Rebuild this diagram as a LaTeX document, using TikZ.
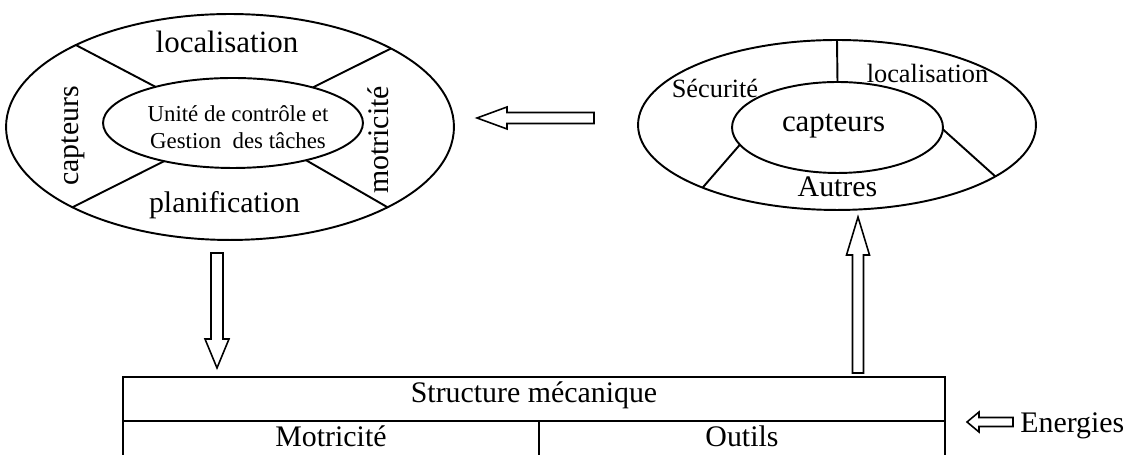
\documentclass[tikz,border=0pt]{standalone}
\usepackage{fontspec}
\setmainfont{Liberation Serif}
\usepackage{tikz}
\usetikzlibrary{shapes.geometric}
\tikzstyle{oval} = [draw, ellipse, line width=1.1pt, inner sep=0pt, outer sep=0pt]
\tikzstyle{split} = [line width=1.1pt]
\tikzstyle{lbl} = [inner sep=0pt, font=\fontsize{17}{20}\selectfont]
\tikzstyle{small} = [inner sep=0pt, font=\fontsize{15}{18}\selectfont]
\tikzstyle{cell} = [draw, line width=1.1pt, inner sep=0pt, minimum height=0.88cm, text height=0.7em, text depth=0.25em, font=\fontsize{17}{20}\selectfont]
\tikzstyle{hollow} = [draw, line width=0.9pt, line join=miter]

\begin{document}
\begin{tikzpicture}[x=0.02cm, y=0.02cm]
			\useasboundingbox (0,0) rectangle (1139,455);
			\clip (0,0) rectangle (1139,455);
			\node[oval, minimum width=8.96cm, minimum height=4.52cm] (ovalL) at (230,328) {};
			\node[oval, minimum width=5.2cm, minimum height=1.8cm] (coreL) at (233,332) {};
			\draw[split] (ovalL.152.4) -- (coreL.155.2);
			\draw[split] (ovalL.26.9) -- (coreL.24.8);
			\draw[split] (ovalL.207.9) -- (coreL.209.7);
			\draw[split] (ovalL.-27.3) -- (coreL.-27.5);
			\node[inner sep=0pt, align=center, font=\fontsize{13}{15.4}\selectfont] (task) at (238,328) {Unité de contrôle et\\Gestion~ des tâches};
			\node[lbl, anchor=base, font=\fontsize{17.6}{20}\selectfont] (locL) at (227,402) {localisation};
			\node[lbl, rotate=90] (capL) at (73,319) {capteurs};
			\node[lbl, rotate=90] (motL) at (378,315) {motricité};
			\node[lbl, anchor=base] (plan) at (224.5,242) {planification};
			\node[oval, minimum width=7.96cm, minimum height=3.4cm] (ovalR) at (837,330) {};
			\node[oval, minimum width=4.22cm, minimum height=1.82cm] (coreR) at (837.5,327.5) {};
			\draw[split] (ovalR.north) -- (coreR.north);
			\draw[split] (ovalR.205.5) -- (coreR.190);
			\draw[split] (ovalR.-18.5) -- (coreR.-1.4);
			\node[small, anchor=base] (secu) at (715,357) {Sécurité};
			\node[small, anchor=base] (locR) at (927.5,372) {localisation};
			\node[lbl, anchor=base, font=\fontsize{17.6}{20}\selectfont] (capR) at (833.5,323) {capteurs};
			\node[lbl, anchor=base] (other) at (837.5,258) {Autres};
			\node[cell, minimum width=16.44cm] (struct) at (534,56) {Structure mécanique};
			\node[cell, minimum width=8.32cm] (motor) at (331,12) {Motricité};
			\node[cell, minimum width=8.12cm] (tools) at (742,12) {Outils};
			\node[lbl, anchor=base west] (energy) at (1020,22) {Energies};
			\coordinate (tipA) at (477,337);
			\coordinate (tipB) at (217,87);
			\coordinate (tipC) at (858,238);
			\coordinate (tipD) at (967,33);
			\draw[hollow] (tipA) -- ++(30,11) -- ++(0,-5.5) -- ++(87,0) -- ++(0,-11) -- ++(-87,0) -- ++(0,-5.5) -- cycle;
			\draw[hollow] (tipB) -- ++(12,29) -- ++(-6,0) -- ++(0,86) -- ++(-12,0) -- ++(0,-86) -- ++(-6,0) -- cycle;
			\draw[hollow] (tipC) -- ++(11.5,-38) -- ++(-6,0) -- ++(0,-118) -- ++(-11,0) -- ++(0,118) -- ++(-6,0) -- cycle;
			\draw[hollow] (tipD) -- ++(12,10) -- ++(0,-5.5) -- ++(34,0) -- ++(0,-9) -- ++(-34,0) -- ++(0,-5.5) -- cycle;
		\end{tikzpicture}
\end{document}
